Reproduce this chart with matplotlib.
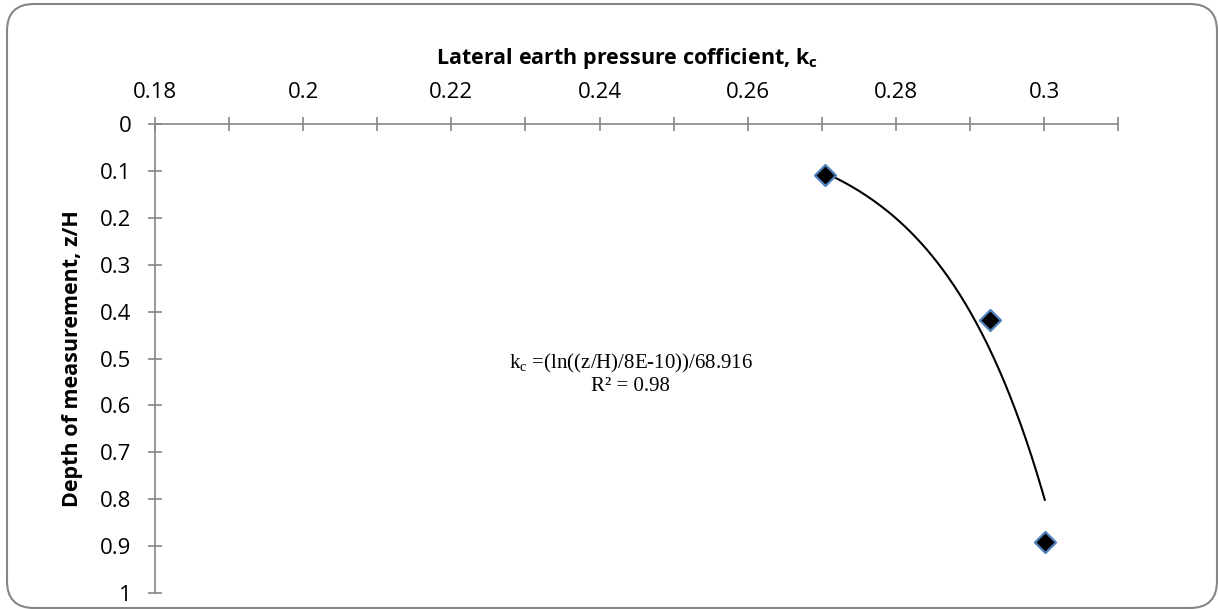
import numpy as np
import matplotlib.pyplot as plt
from matplotlib.patches import FancyBboxPatch

# measured points
kc = [0.2705, 0.2927, 0.3001]
zH = [0.108, 0.417, 0.892]

# equation as printed on the chart
eq_text = "k$_\\mathregular{c}$ =(ln((z/H)/8E-10))/68.916\nR² = 0.98"

xticks = np.round(np.arange(0.18, 0.3101, 0.01), 2)
xlabels = ["0.18", "", "0.2", "", "0.22", "", "0.24", "", "0.26", "", "0.28", "", "0.3", ""]
yticks = np.round(np.arange(0, 1.01, 0.1), 1)
ylabels = ["0", "0.1", "0.2", "0.3", "0.4", "0.5", "0.6", "0.7", "0.8", "0.9", "1"]

plt.rcParams['font.family'] = ['Open Sans', 'DejaVu Sans']
grey = "#868686"

fig = plt.figure(figsize=(12.18, 6.09), dpi=100)
ax = fig.add_axes([0.1273, 0.0263, 0.918 - 0.1273, 0.796 - 0.0263])

# exponential trendline through the points, z = a*exp(b*k)
b, lna = np.polyfit(kc, np.log(zH), 1)
kk = np.linspace(min(kc), max(kc), 200)
ax.plot(kk, np.exp(lna) * np.exp(b * kk), color="black", lw=1.5, zorder=2)

ax.scatter(kc, zH, marker="D", s=115, facecolor="black", edgecolor="#4F81BD",
           linewidth=1.6, zorder=3)

ax.set_xlim(0.18, 0.31)
ax.set_ylim(1, 0)
ax.xaxis.tick_top()
ax.set_xticks(xticks)
ax.set_xticklabels(xlabels)
ax.set_yticks(yticks)
ax.set_yticklabels(ylabels)
for s in ["right", "bottom"]:
    ax.spines[s].set_visible(False)
for s in ["left", "top"]:
    ax.spines[s].set_color(grey)
    ax.spines[s].set_linewidth(1.2)
ax.tick_params(axis="both", direction="inout", length=10, width=1.2, color=grey,
               labelsize=16)
ax.tick_params(axis="x", pad=10)
ax.tick_params(axis="y", pad=12)

ax.text(0.49, 1.14, "Lateral earth pressure cofficient, k$_\\mathregular{c}$",
        transform=ax.transAxes, ha="center", va="center", fontsize=15.5, fontweight="bold")
ax.text(-0.086, 0.5, "Depth of measurement, z/H", transform=ax.transAxes, rotation=90,
        ha="center", va="center", fontsize=15.5, fontweight="bold")

ax.text(0.2442, 0.533, eq_text, ha="center", va="center", fontsize=15,
        family="Liberation Serif", linespacing=1.15)

frame = FancyBboxPatch((0.07, 0.01), 12.10, 6.04, boxstyle="round,pad=0,rounding_size=0.27",
                       transform=fig.dpi_scale_trans, facecolor="none", edgecolor=grey,
                       linewidth=1.5)
fig.patches.append(frame)

fig.savefig("out.png", dpi=100)
